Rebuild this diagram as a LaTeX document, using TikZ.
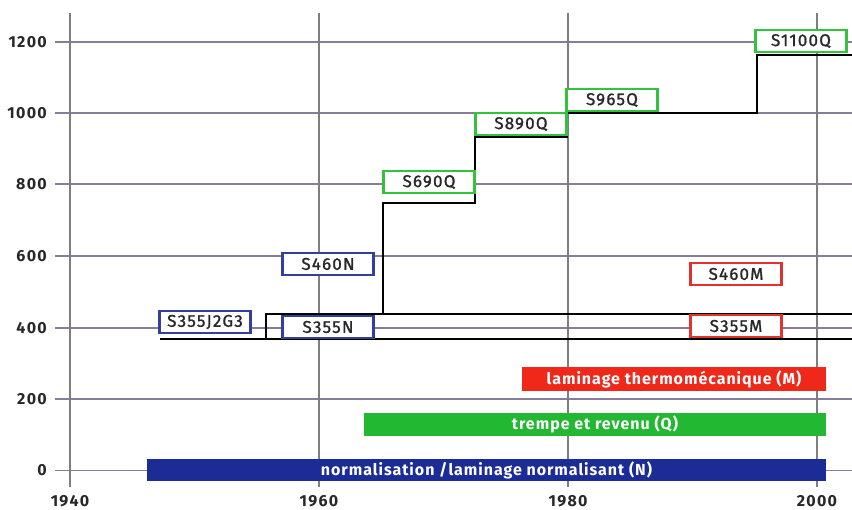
\documentclass[tikz,border=0pt]{standalone}
\usepackage{fontspec}
\setmainfont{Fira Sans}
\newfontfamily\boxfont{Fira Sans}[LetterSpace=7,FakeBold=1.2]
\newfontfamily\barfont{Fira Sans}[LetterSpace=6]
\newfontfamily\tickfont{Fira Sans}[LetterSpace=8]
\definecolor{nblue}{RGB}{28,44,150}
\definecolor{qgreen}{RGB}{34,184,50}
\definecolor{mred}{RGB}{240,40,26}
\definecolor{bblue}{RGB}{50,62,160}
\definecolor{bgreen}{RGB}{50,195,60}
\definecolor{bred}{RGB}{225,50,45}
\definecolor{hgridc}{RGB}{135,125,155}
\definecolor{vgridc}{RGB}{125,125,130}
\definecolor{txt}{RGB}{40,40,40}
\tikzset{
  vgrid/.style={draw=vgridc, line width=1.1pt},
  hgrid/.style={draw=hgridc, line width=1.1pt},
  tick/.style={font=\tickfont\fontsize{16}{18}\selectfont\bfseries, text=txt, inner sep=0pt},
  steel/.style={draw=black, line width=1.8pt},
  grade/.style={draw, line width=2.2pt, fill=white, minimum width=91pt, minimum height=22pt, inner sep=0pt, font=\boxfont\fontsize{17}{19}\selectfont, text=txt},
  nbox/.style={grade, draw=bblue},
  qbox/.style={grade, draw=bgreen},
  mbox/.style={grade, draw=bred},
  bar/.style={inner sep=0pt, minimum height=23pt, text=white, font=\barfont\fontsize{16}{18}\selectfont\bfseries}
}
\begin{document}
\begin{tikzpicture}[x=1pt,y=-1pt]
\useasboundingbox[fill=white] (0,0) rectangle (852,510);
% horizontal grid
\foreach \yy/\lab in {42/1200,113/1000,184/800,256/600,328/400,399/200,470.5/0}{
  \draw[hgrid] (55,\yy) -- (852,\yy);
  \node[tick, anchor=east] (t\lab) at (47,\yy) {\lab};
}
% vertical grid
\foreach \xx/\lab in {70/1940,319/1960,568/1980,817/2000}{
  \draw[vgrid] (\xx,13) -- (\xx,487);
  \node[tick] (x\lab) at (\xx,501) {\lab};
}
% step lines
\coordinate (a0) at (160,339);
\coordinate (a1) at (852,339);
\coordinate (b0) at (266,339);
\coordinate (b1) at (266,314);
\coordinate (b2) at (852,314);
\coordinate (c0) at (383,314);
\coordinate (c1) at (383,203);
\coordinate (c2) at (475,203);
\coordinate (c3) at (475,137);
\coordinate (c4) at (567,137);
\coordinate (c5) at (567,113);
\coordinate (c6) at (757,113);
\coordinate (c7) at (757,55);
\coordinate (c8) at (852,55);
\draw[steel] (a0) -- (a1);
\draw[steel] (b0) -- (b1) -- (b2);
\draw[steel] (c0) -- (c1) -- (c2) -- (c3) -- (c4) -- (c5) -- (c6) -- (c7) -- (c8);
% grade boxes
\node[nbox] (sj) at (205,322) {S355J2G3};
\node[nbox] (s355n) at (328,327) {S355N};
\node[nbox] (s460n) at (328,264) {S460N};
\node[qbox] (s690q) at (429,182) {S690Q};
\node[qbox] (s890q) at (521,124) {S890Q};
\node[qbox] (s965q) at (612,100) {S965Q};
\node[qbox] (s1100q) at (801,41) {S1100Q};
\node[mbox] (s460m) at (736,274) {S460M};
\node[mbox] (s355m) at (736,326) {S355M};
% process bars
\node[bar, fill=mred, minimum width=304pt, minimum height=24pt] (barM) at (674,379) {laminage thermomécanique (M)};
\node[bar, fill=qgreen, minimum width=462pt] (barQ) at (595,424.5) {trempe et revenu (Q)};
\node[bar, fill=nblue, minimum width=679pt, minimum height=22pt] (barN) at (486.5,470) {normalisation /laminage normalisant (N)};
\end{tikzpicture}
\end{document}
